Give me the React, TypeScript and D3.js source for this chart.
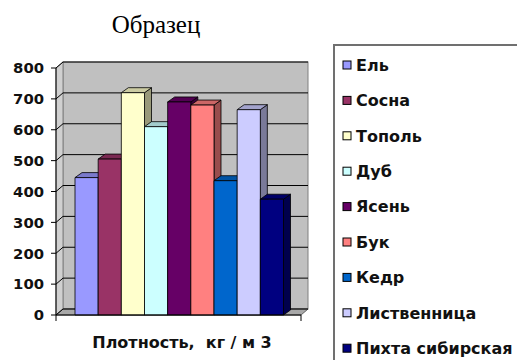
import React from "react";
import * as d3 from "d3";

const categories = ["Ель", "Сосна", "Тополь", "Дуб", "Ясень", "Бук", "Кедр", "Лиственница", "Пихта сибирская"];
const values = [445, 505, 720, 610, 690, 680, 435, 665, 375];
const colors = ["#9999FF", "#993366", "#FFFFCC", "#CCFFFF", "#660066", "#FF8080", "#0066CC", "#CCCCFF", "#000080"];
const yTicks = [0, 100, 200, 300, 400, 500, 600, 700, 800];
const title = "Образец";
const xTitle = "Плотность,  кг / м 3";

const W = 517;
const H = 360;

function shade(c: string, k: number) {
  const r = d3.rgb(c);
  return d3.rgb(r.r * k, r.g * k, r.b * k).formatHex();
}

export default function App() {
  const y = d3.scaleLinear().domain([0, 800]).range([315, 68]);
  const x = d3.scaleBand<string>().domain(categories).range([75, 283.5]).padding(0);
  const axisX = 56;
  const axisRight = 301;
  const wdx = 7;
  const wdy = -6;
  const bdx = 7;
  const bdy = -5;
  const y0 = y(0);
  const yTop = y(800);

  const legendY0 = 65;
  const legendStep = 35.4;

  return (
    <svg
      width={W}
      height={H}
      style={{ position: "absolute", left: 0, top: 0, background: "#fff" }}
      fontFamily="DejaVu Sans"
    >
      <rect x={0} y={0} width={W} height={H} fill="#fff" />
      <text
        x={156}
        y={33}
        textAnchor="middle"
        fontFamily="'Liberation Serif', 'Times New Roman', serif"
        fontSize={25}
        fill="#000"
      >
        {title}
      </text>

      {/* back wall */}
      <rect
        x={axisX + wdx}
        y={yTop + wdy}
        width={axisRight - axisX}
        height={y0 - yTop}
        fill="#c0c0c0"
        stroke="#808080"
        strokeWidth={1}
      />
      {/* left side wall */}
      <polygon
        points={`${axisX},${y0} ${axisX},${yTop} ${axisX + wdx},${yTop + wdy} ${axisX + wdx},${y0 + wdy}`}
        fill="#d0d0d0"
        stroke="#808080"
        strokeWidth={1}
      />
      {/* floor */}
      <polygon
        points={`${axisX},${y0} ${axisRight},${y0} ${axisRight + wdx},${y0 + wdy} ${axisX + wdx},${y0 + wdy}`}
        fill="#a8a8a8"
        stroke="#606060"
        strokeWidth={1}
      />
      {/* gridlines */}
      {yTicks.map((v) => (
        <polyline
          key={"g" + v}
          points={`${axisX},${y(v)} ${axisX + wdx},${y(v) + wdy} ${axisRight + wdx},${y(v) + wdy}`}
          fill="none"
          stroke="#000"
          strokeWidth={1}
        />
      ))}

      {/* bars */}
      {categories.map((c, i) => {
        const x0 = x(c)!;
        const x1 = x0 + x.bandwidth();
        const yt = y(values[i]);
        const col = colors[i];
        return (
          <g key={c} stroke="#000" strokeWidth={0.8} strokeLinejoin="round">
            <polygon
              points={`${x1},${y0} ${x1},${yt} ${x1 + bdx},${yt + bdy} ${x1 + bdx},${y0 + bdy}`}
              fill={shade(col, 0.6)}
            />
            <polygon
              points={`${x0},${yt} ${x1},${yt} ${x1 + bdx},${yt + bdy} ${x0 + bdx},${yt + bdy}`}
              fill={shade(col, 0.8)}
            />
            <rect x={x0} y={yt} width={x1 - x0} height={y0 - yt} fill={col} />
          </g>
        );
      })}

      {/* axes */}
      <line x1={axisX} y1={yTop} x2={axisX} y2={y0 + 6} stroke="#000" strokeWidth={1} />
      <line x1={axisX} y1={y0} x2={axisRight} y2={y0} stroke="#000" strokeWidth={1} />
      <line x1={axisRight} y1={y0} x2={axisRight} y2={y0 + 6} stroke="#000" strokeWidth={1} />
      {yTicks.map((v) => (
        <g key={"t" + v}>
          <line x1={axisX - 5} y1={y(v)} x2={axisX} y2={y(v)} stroke="#000" strokeWidth={1} />
          <text
            x={44}
            y={y(v)}
            dy="0.36em"
            textAnchor="end"
            fontWeight="bold"
            fontSize={14.8}
            fill="#111"
          >
            {v}
          </text>
        </g>
      ))}
      <text
        x={182}
        y={348}
        textAnchor="middle"
        fontWeight="bold"
        fontSize={16}
        fill="#111"
        style={{ whiteSpace: "pre" }}
      >
        {xTitle}
      </text>

      {/* legend */}
      <rect x={334} y={45} width={200} height={340} fill="#fff" stroke="#707070" strokeWidth={2} />
      {categories.map((c, i) => {
        const cy = legendY0 + i * legendStep;
        return (
          <g key={"l" + c}>
            <rect x={343} y={cy - 4} width={8} height={8} fill={colors[i]} stroke="#000" strokeWidth={1} />
            <text x={356} y={cy} dy="0.36em" fontWeight="bold" fontSize={16} fill="#111">
              {c}
            </text>
          </g>
        );
      })}
    </svg>
  );
}
